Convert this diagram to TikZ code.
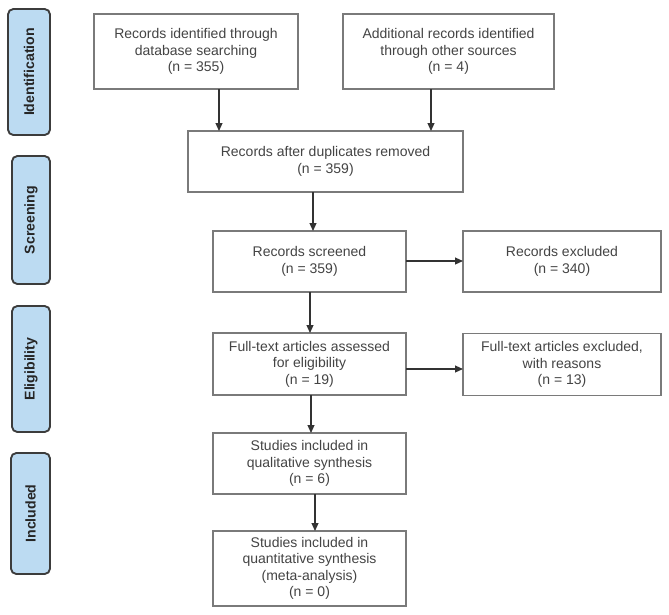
\documentclass[tikz,border=0pt]{standalone}
\usepackage{fontspec}
\setmainfont{Liberation Sans}
\usetikzlibrary{arrows.meta}
\definecolor{boxline}{HTML}{7A7A7A}
\definecolor{arrowc}{HTML}{333333}
\definecolor{sidefill}{HTML}{BCDBF2}
\definecolor{sideline}{HTML}{3C3C3C}
\definecolor{txt}{HTML}{444444}
\begin{document}
\begin{tikzpicture}[x=0.75pt,y=-0.75pt,
  box/.style={draw=boxline,line width=0.9pt,fill=white,inner sep=0pt,outer sep=0pt,align=center,text=txt,
    font=\fontsize{10.5}{12.3}\selectfont},
  side/.style={draw=sideline,line width=1.4pt,fill=sidefill,rounded corners=4pt,inner sep=0pt,outer sep=0pt,
    rotate=90,text=black!85,font=\fontsize{10.6}{12}\selectfont\bfseries},
  arr/.style={draw=arrowc,line width=1pt,-{Triangle[length=6pt,width=5.2pt]}}]
\useasboundingbox (0,0) rectangle (669,615);
% side labels
\node[side,minimum width=94.5pt,minimum height=31.5pt] (sId) at (29,72) {Identification};
\node[side,minimum width=96pt,minimum height=28.5pt] (sSc) at (31,220) {Screening};
\node[side,minimum width=94.5pt,minimum height=28.5pt] (sEl) at (31,369) {Eligibility};
\node[side,minimum width=90.75pt,minimum height=29.25pt] (sIn) at (30.5,513.5) {Included};
% boxes
\node[box,minimum width=153pt,minimum height=56.25pt] (b1) at (196,51.5) {Records identified through\\database searching\\(n = 355)};
\node[box,minimum width=158.25pt,minimum height=56.25pt] (b2) at (448.5,51.5) {Additional records identified\\through other sources\\(n = 4)};
\node[box,minimum width=206.25pt,minimum height=45.75pt] (b3) at (325.5,161.5) {Records after duplicates removed\\(n = 359)};
\node[box,minimum width=144.75pt,minimum height=45.75pt] (b4) at (309.5,261.5) {Records screened\\(n = 359)};
\node[box,minimum width=148.5pt,minimum height=45.75pt] (b5) at (562,261.5) {Records excluded\\(n = 340)};
\node[box,minimum width=144.75pt,minimum height=46.5pt] (b6) at (309.5,364) {Full-text articles assessed\\for eligibility\\(n = 19)};
\node[box,minimum width=148.5pt,minimum height=46.5pt] (b7) at (562,364.5) {Full-text articles excluded,\\with reasons\\(n = 13)};
\node[box,minimum width=144.75pt,minimum height=45.75pt] (b8) at (309.5,463.5) {Studies included in\\qualitative synthesis\\(n = 6)};
\node[box,minimum width=144.75pt,minimum height=56.25pt] (b9) at (309.5,568.5) {Studies included in\\quantitative synthesis\\(meta-analysis)\\(n = 0)};
% arrow positions
\coordinate (a1) at (219,0);
\coordinate (a2) at (431,0);
\coordinate (a3) at (313,0);
\coordinate (a4) at (310,0);
\coordinate (a5) at (311,0);
\coordinate (a6) at (315,0);
\coordinate (h1) at (0,261);
\coordinate (h2) at (0,369);
% connectors
\draw[arr] (b1.south -| a1) -- (b3.north -| a1);
\draw[arr] (b2.south -| a2) -- (b3.north -| a2);
\draw[arr] (b3.south -| a3) -- (b4.north -| a3);
\draw[arr] (b4.east |- h1) -- (b5.west |- h1);
\draw[arr] (b4.south -| a4) -- (b6.north -| a4);
\draw[arr] (b6.east |- h2) -- (b7.west |- h2);
\draw[arr] (b6.south -| a5) -- (b8.north -| a5);
\draw[arr] (b8.south -| a6) -- (b9.north -| a6);
\end{tikzpicture}
\end{document}
